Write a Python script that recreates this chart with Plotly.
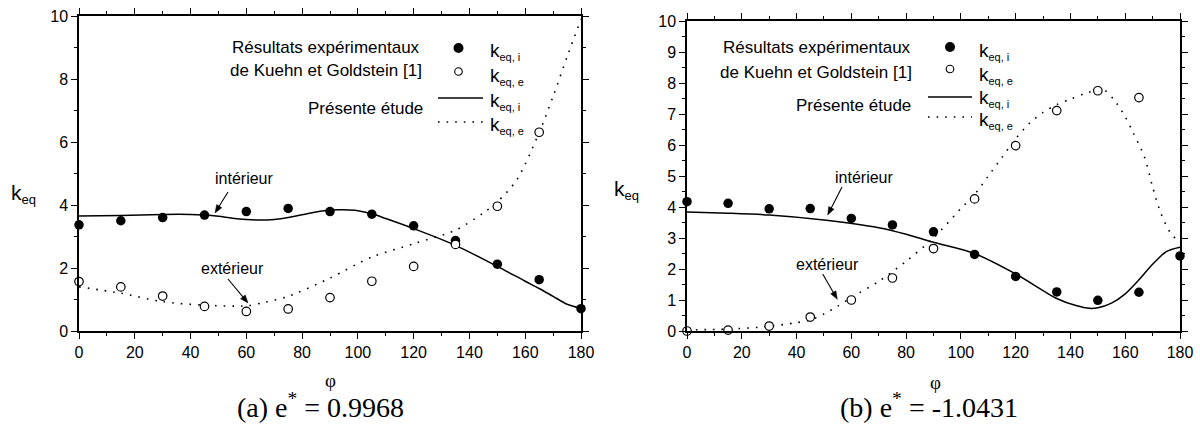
import math
import plotly.graph_objects as go

# ---------------- data ----------------
phi_exp = [0, 15, 30, 45, 60, 75, 90, 105, 120, 135, 150, 165, 180]
phi_exp_e = [0, 15, 30, 45, 60, 75, 90, 105, 120, 135, 150, 165]

# (a) e* = 0.9968
a_exp_i = [3.37, 3.50, 3.60, 3.68, 3.79, 3.89, 3.79, 3.71, 3.34, 2.87, 2.12, 1.63, 0.71]
a_exp_e = [1.57, 1.40, 1.11, 0.78, 0.62, 0.70, 1.06, 1.58, 2.05, 2.75, 3.96, 6.31]
a_phi_i = [0, 15, 30, 40, 45, 50, 55, 60, 65, 70, 75, 80, 85, 90, 95, 100, 105, 110,
           120, 135, 150, 160, 165, 170, 175, 180]
a_mod_i = [3.65, 3.67, 3.70, 3.70, 3.68, 3.64, 3.58, 3.54, 3.52, 3.54, 3.60, 3.69, 3.78,
           3.84, 3.85, 3.82, 3.72, 3.57, 3.25, 2.72, 2.05, 1.58, 1.35, 1.10, 0.85, 0.72]
a_phi_e = [0, 15, 30, 45, 60, 67, 75, 90, 105, 120, 135, 145, 150, 157, 165, 170, 175, 180]
a_mod_e = [1.40, 1.20, 0.93, 0.82, 0.80, 0.92, 1.10, 1.68, 2.35, 2.77, 3.20, 3.75, 4.10,
           4.80, 6.30, 7.45, 8.70, 9.90]

# (b) e* = -1.0431
b_exp_i = [4.17, 4.12, 3.94, 3.95, 3.63, 3.42, 3.20, 2.47, 1.76, 1.26, 0.99, 1.25, 2.42]
b_exp_e = [0.00, 0.03, 0.16, 0.45, 1.00, 1.71, 2.66, 4.26, 5.98, 7.11, 7.75, 7.53]
b_phi_i = [0, 15, 30, 50, 70, 80, 90, 105, 120, 135, 142, 147, 150, 155, 160, 165, 170, 175, 180]
b_mod_i = [3.84, 3.80, 3.74, 3.58, 3.33, 3.12, 2.86, 2.50, 1.84, 1.05, 0.82, 0.73, 0.75,
           0.90, 1.20, 1.65, 2.15, 2.56, 2.70]
b_phi_e = [0, 15, 30, 40, 45, 50, 55, 60, 70, 80, 90, 100, 105, 110, 115, 120, 125, 130,
           135, 140, 145, 150, 152, 156, 160, 163, 167, 170, 173, 177, 180]
b_mod_e = [0.04, 0.06, 0.15, 0.27, 0.35, 0.55, 0.80, 1.08, 1.60, 2.25, 3.00, 3.95, 4.40,
           5.00, 5.60, 6.20, 6.70, 7.05, 7.30, 7.48, 7.65, 7.78, 7.80, 7.45, 6.91, 6.38,
           5.62, 4.65, 3.80, 3.10, 2.90]

x_ticks = [0, 20, 40, 60, 80, 100, 120, 140, 160, 180]
captions = ["(a) e<sup>*</sup> = 0.9968", "(b) e<sup>*</sup> = -1.0431"]
legend_rows = ["Résultats expérimentaux", "de Kuehn et Goldstein [1]", "Présente étude"]
lbl_i = "eq, i"
lbl_e = "eq, e"

# ---------------- style ----------------
W, H = 1200, 425
SANS = "Liberation Sans, Arial, sans-serif"
SERIF = "Liberation Serif, Times New Roman, serif"
BLACK = "black"


def px(x):
    return x / W


def py(y):
    return 1 - y / H


fig = go.Figure()

panels = [
    dict(xa="x", ya="y", phi_i=a_phi_i, mod_i=a_mod_i, phi_e=a_phi_e, mod_e=a_mod_e,
         exp_i=a_exp_i, exp_e=a_exp_e),
    dict(xa="x2", ya="y2", phi_i=b_phi_i, mod_i=b_mod_i, phi_e=b_phi_e, mod_e=b_mod_e,
         exp_i=b_exp_i, exp_e=b_exp_e),
]

for p in panels:
    fig.add_trace(go.Scatter(x=p["phi_e"], y=p["mod_e"], mode="lines", xaxis=p["xa"], yaxis=p["ya"],
                             line=dict(color=BLACK, width=1.6, dash="1.6px,7px", shape="spline",
                                       smoothing=0.8),
                             cliponaxis=False, hoverinfo="skip"))
    fig.add_trace(go.Scatter(x=p["phi_i"], y=p["mod_i"], mode="lines", xaxis=p["xa"], yaxis=p["ya"],
                             line=dict(color=BLACK, width=1.5, shape="spline", smoothing=0.8),
                             cliponaxis=False, hoverinfo="skip"))
    fig.add_trace(go.Scatter(x=phi_exp, y=p["exp_i"], mode="markers", xaxis=p["xa"], yaxis=p["ya"],
                             marker=dict(symbol="circle", size=9.5, color=BLACK,
                                         line=dict(width=0)),
                             cliponaxis=False))
    fig.add_trace(go.Scatter(x=phi_exp_e, y=p["exp_e"], mode="markers", xaxis=p["xa"], yaxis=p["ya"],
                             marker=dict(symbol="circle", size=8.5, color="white",
                                         line=dict(width=1.2, color=BLACK)),
                             cliponaxis=False))


def axis_common(**kw):
    d = dict(showline=True, linecolor=BLACK, linewidth=1.5, mirror="ticks",
             ticks="outside", ticklen=6, tickwidth=1.2, tickcolor=BLACK,
             showgrid=False, zeroline=False, automargin=False,
             tickfont=dict(family=SANS, size=16, color=BLACK))
    d.update(kw)
    return d


fig.update_layout(
    width=W, height=H,
    margin=dict(l=0, r=0, t=0, b=0, pad=0),
    paper_bgcolor="white", plot_bgcolor="white",
    showlegend=False,
    xaxis=axis_common(domain=[px(79), px(581)], range=[0, 180], tickvals=x_ticks, anchor="y",
                      minor=dict(ticks="outside", ticklen=3.5, tickwidth=1.2, tickcolor=BLACK, dtick=10, tick0=0)),
    yaxis=axis_common(domain=[py(331), py(16)], range=[0, 10], dtick=2, tick0=0, anchor="x",
                      minor=dict(ticks="outside", ticklen=3.5, tickwidth=1.2, tickcolor=BLACK, dtick=1, tick0=0)),
    xaxis2=axis_common(domain=[px(687), px(1180)], range=[0, 180], tickvals=x_ticks, anchor="y2",
                       minor=dict(ticks="outside", ticklen=3.5, tickwidth=1.2, tickcolor=BLACK, dtick=10, tick0=0)),
    yaxis2=axis_common(domain=[py(331), py(21)], range=[0, 10], dtick=1, tick0=0, anchor="x2",
                       minor=dict(ticks="outside", ticklen=3.5, tickwidth=1.2, tickcolor=BLACK, dtick=0.5, tick0=0)),
)

ann = []
shapes = []


def text(x, y, s, size=16, family=SANS, xanchor="center", yanchor="middle"):
    ann.append(dict(x=px(x), y=py(y), xref="paper", yref="paper", text=s, showarrow=False,
                    xanchor=xanchor, yanchor=yanchor,
                    font=dict(family=family, size=size, color=BLACK)))


def arrow(tipx, tipy, tailx, taily, head=8.0, half=3.0):
    dx, dy = tipx - tailx, tipy - taily
    n = math.hypot(dx, dy)
    ux, uy = dx / n, dy / n
    bx, by = tipx - ux * head, tipy - uy * head
    nx, ny = -uy, ux
    shapes.append(dict(type="line", xref="paper", yref="paper",
                       x0=px(tailx), y0=py(taily), x1=px(bx + ux), y1=py(by + uy),
                       line=dict(color=BLACK, width=1.1)))
    pts = [(tipx, tipy), (bx + nx * half, by + ny * half), (bx - nx * half, by - ny * half)]
    path = "M " + " L ".join(f"{px(a):.5f},{py(b):.5f}" for a, b in pts) + " Z"
    shapes.append(dict(type="path", xref="paper", yref="paper", path=path,
                       fillcolor=BLACK, line=dict(color=BLACK, width=0.5)))


def klabel(x, y, sub):
    text(x, y, "k<sub><span style='font-size:11px'>" + sub + "</span></sub>", size=19,
         xanchor="left")


legends = [
    dict(tr=[422, 424, 425], ty=[47, 70.5, 108], mx=458.5, my=[48, 71.5], lx=[438, 483],
         ly=[98, 122], kx=488, ky=[52, 76, 101, 125]),
    dict(tr=[913, 914, 913], ty=[47, 72, 105], mx=950, my=[47, 69], lx=[928, 972],
         ly=[97, 117], kx=977, ky=[51, 75, 99, 120]),
]
for L in legends:
    for s, r, yy in zip(legend_rows, L["tr"], L["ty"]):
        text(r, yy, s, size=17, xanchor="right")
    rf = 5
    shapes.append(dict(type="circle", xref="paper", yref="paper",
                       x0=px(L["mx"] - rf), x1=px(L["mx"] + rf), y0=py(L["my"][0] + rf), y1=py(L["my"][0] - rf),
                       fillcolor=BLACK, line=dict(width=0)))
    ro = 3.8
    shapes.append(dict(type="circle", xref="paper", yref="paper",
                       x0=px(L["mx"] - ro), x1=px(L["mx"] + ro), y0=py(L["my"][1] + ro), y1=py(L["my"][1] - ro),
                       fillcolor="white", line=dict(width=1.1, color=BLACK)))
    shapes.append(dict(type="line", xref="paper", yref="paper", x0=px(L["lx"][0]), x1=px(L["lx"][1]),
                       y0=py(L["ly"][0]), y1=py(L["ly"][0]), line=dict(color=BLACK, width=1.5)))
    shapes.append(dict(type="line", xref="paper", yref="paper", x0=px(L["lx"][0]), x1=px(L["lx"][1]),
                       y0=py(L["ly"][1]), y1=py(L["ly"][1]),
                       line=dict(color=BLACK, width=1.6, dash="1.6px,7px")))
    for sub, yy in zip([lbl_i, lbl_e, lbl_i, lbl_e], L["ky"]):
        klabel(L["kx"], yy, sub)

# curve labels + arrows
text(243.5, 178, "intérieur", size=16)
arrow(215, 213, 228, 192)
text(232.5, 268, "extérieur", size=16)
arrow(248, 303, 228, 279)
text(864, 177, "intérieur", size=16)
arrow(827.7, 215, 842, 187)
text(827, 264, "extérieur", size=16)
arrow(837.3, 299.3, 822.7, 274)

# axis titles
for x, y in [(9, 194), (612, 190)]:
    text(x, y, "k<sub><span style='font-size:13px'>eq</span></sub>", size=21, xanchor="left")
text(330, 380, "φ", size=19, family=SERIF)
text(935, 382, "φ", size=19, family=SERIF)

# captions
text(320, 405, captions[0], size=28, family=SERIF)
text(929, 405, captions[1], size=28, family=SERIF)

fig.update_layout(annotations=ann, shapes=shapes)
fig.write_html("out.html", config=dict(displayModeBar=False),
               post_script="document.body.style.margin='0';document.body.style.overflow='hidden';")
